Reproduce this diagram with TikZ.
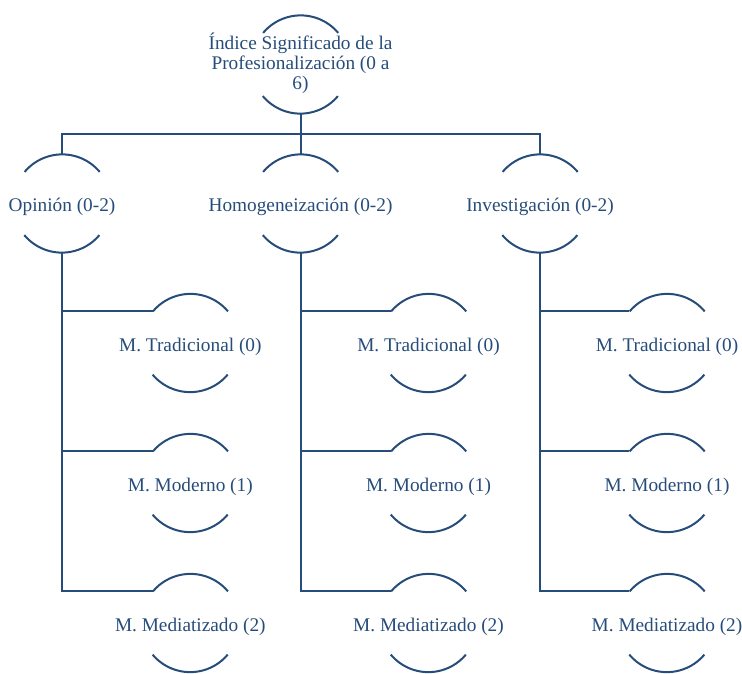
\documentclass[tikz,border=0pt]{standalone}
\usepackage{fontspec}
\setmainfont{Liberation Serif}
\definecolor{db}{RGB}{38,76,122}
\begin{document}
\begin{tikzpicture}[x=1pt,y=-1pt,
  lbl/.style={text=db,font=\fontsize{19.3}{20}\selectfont,align=center,inner sep=0pt},
  hub/.style={circle,minimum size=98pt,inner sep=0pt,draw=none},
  arcline/.style={draw=db,line width=2pt},
  conn/.style={draw=db,line width=2pt}]
\useasboundingbox (0,0) rectangle (742,673);
% nodes
\node[hub] (top) at (300.5,64.5) {};
\node[lbl] (topt) at (300.5,63.5) {Índice Significado de la\\Profesionalización (0 a\\6)};
\foreach \n/\x/\t in {op/62/Opinión (0-2),ho/300.5/Homogeneización (0-2),in/540/Investigación (0-2)}{
  \node[hub] (\n) at (\x,203.5) {};
  \node[lbl] (\n t) at (\x,207) {\t};
}
\foreach \c/\x in {op/190.3,ho/428.5,in/667}{
  \node[hub] (\c1) at (\x,343) {};
  \node[lbl] (\c1t) at (\x,347) {M. Tradicional (0)};
  \node[hub] (\c2) at (\x,483) {};
  \node[lbl] (\c2t) at (\x,487) {M. Moderno (1)};
  \node[hub] (\c3) at (\x,623) {};
  \node[lbl] (\c3t) at (\x,627) {M. Mediatizado (2)};
}
% arcs
\foreach \n in {top,op,ho,in,op1,op2,op3,ho1,ho2,ho3,in1,in2,in3}{
  \draw[arcline] (\n.40) arc[start angle=40,end angle=140,radius=49pt];
  \draw[arcline] (\n.220) arc[start angle=220,end angle=320,radius=49pt];
}
% connectors
\coordinate (bar) at (300.5,134);
\draw[conn] (top.south) -- (bar);
\draw[conn] (op.north) |- (bar) -| (in.north);
\draw[conn] (bar) -- (ho.north);
\foreach \c in {op,ho,in}{
  \draw[conn] (\c.south) |- (\c1.140);
  \draw[conn] (\c.south) |- (\c2.140);
  \draw[conn] (\c.south) |- (\c3.140);
}
\end{tikzpicture}
\end{document}
